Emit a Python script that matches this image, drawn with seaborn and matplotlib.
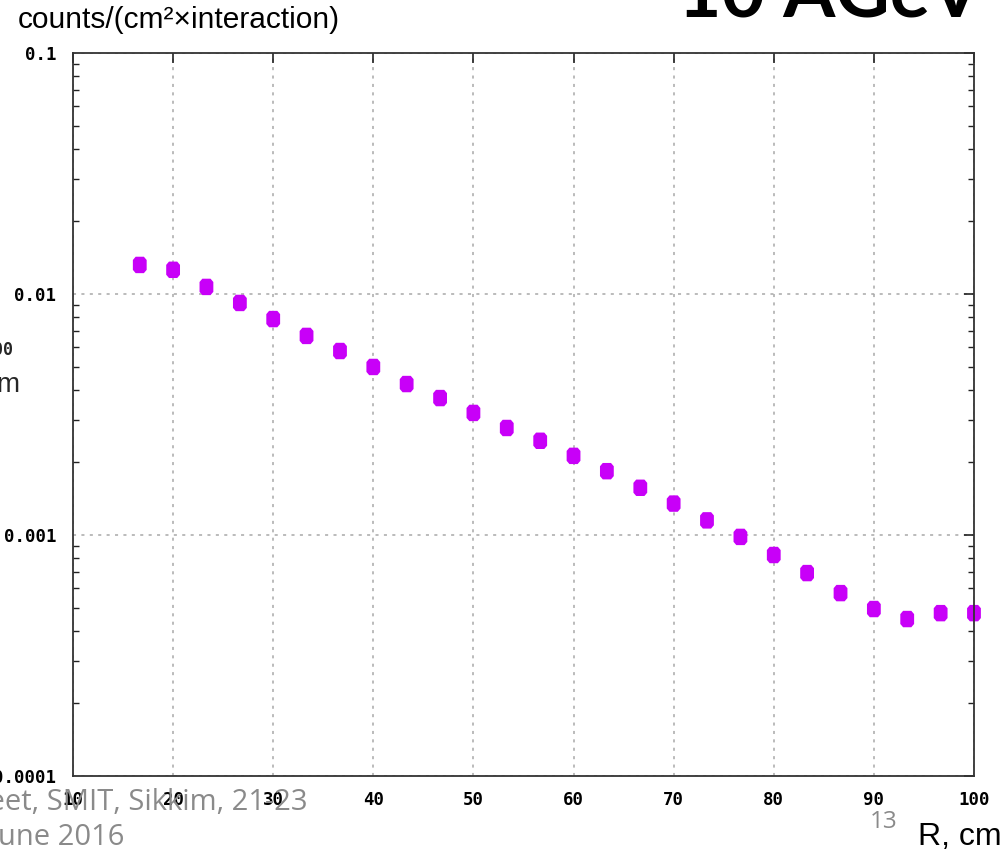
import numpy as np
import pandas as pd
import matplotlib
matplotlib.use("Agg")
import matplotlib.pyplot as plt
import seaborn as sns
from matplotlib.ticker import LogLocator, FixedLocator, NullFormatter, FixedFormatter

# Radial distance of each bin (cm) and hit density per bin
radius_cm = [16.67, 20.0, 23.33, 26.67, 30.0, 33.33, 36.67, 40.0, 43.33,
             46.67, 50.0, 53.33, 56.67, 60.0, 63.33, 66.67, 70.0, 73.33,
             76.67, 80.0, 83.33, 86.67, 90.0, 93.33, 96.67, 100.0]
density = [0.0132, 0.0126, 0.0107, 0.00918, 0.00787, 0.0067, 0.0058, 0.00498,
           0.00423, 0.0037, 0.00321, 0.00278, 0.00246, 0.00213, 0.00184,
           0.00157, 0.00135, 0.00115, 0.000982, 0.000826, 0.000695, 0.000574,
           0.000493, 0.000448, 0.000474, 0.000474]

x_ticks = [10, 20, 30, 40, 50, 60, 70, 80, 90, 100]
x_tick_labels = ["10", "20", "30", "40", "50", "60", "70", "80", "90", "100"]
y_ticks = [0.1, 0.01, 0.001, 0.0001]
y_tick_labels = ["0.1", "0.01", "0.001", "0.0001"]

df = pd.DataFrame({"R": radius_cm, "density": density})

sns.set_theme(style="white")
plt.rcParams["font.family"] = ["Liberation Sans", "DejaVu Sans"]

fig = plt.figure(figsize=(10.04, 8.52), dpi=100)
ax = fig.add_axes([0.0727, 0.0892, 0.8974, 0.8486])

# tall octagon marker
octagon = [(-0.42, -0.3), (-0.25, -0.5), (0.25, -0.5), (0.42, -0.3),
           (0.42, 0.3), (0.25, 0.5), (-0.25, 0.5), (-0.42, 0.3)]

sns.scatterplot(data=df, x="R", y="density", ax=ax, marker=octagon,
                s=140, color="#c800f8", edgecolor="none", linewidth=0,
                clip_on=False, zorder=1, legend=False)

ax.set_yscale("log")
ax.set_xlim(10, 100)
ax.set_ylim(0.0001, 0.1)
ax.set_xlabel("")
ax.set_ylabel("")

ax.xaxis.set_major_locator(FixedLocator(x_ticks))
ax.xaxis.set_major_formatter(FixedFormatter(x_tick_labels))
ax.yaxis.set_major_locator(FixedLocator(y_ticks))
ax.yaxis.set_major_formatter(FixedFormatter(y_tick_labels))
ax.yaxis.set_minor_locator(LogLocator(base=10, subs=np.arange(2, 10)))
ax.yaxis.set_minor_formatter(NullFormatter())
for lab in ax.get_xticklabels() + ax.get_yticklabels():
    lab.set_fontfamily("DejaVu Sans Mono")
    lab.set_fontweight("bold")
    lab.set_fontsize(12.5)
    lab.set_color("black")

ax.tick_params(axis="both", which="major", direction="in", length=7,
               width=1.2, color="#222222", top=True, right=True)
ax.tick_params(axis="y", which="minor", direction="in", length=4,
               width=1.0, color="#222222", left=True, right=True)
ax.tick_params(axis="y", which="major", pad=12)
ax.tick_params(axis="x", which="major", pad=11)

ax.grid(True, which="major", color="#a8a8a8", linestyle=(0, (2, 3.5)),
        linewidth=1.1)
for sp in ax.spines.values():
    sp.set_visible(True)
    sp.set_color("#333333")
    sp.set_linewidth(1.3)

# slide text around the plot
fig.text(0.018, 1 - 28 / 852, "counts/(cm\u00b2\u00d7interaction)",
         fontsize=21.5, color="black", ha="left", va="baseline")
fig.text(0.9785, 1 - 18 / 852, "10 AGeV", fontsize=54, fontweight="bold",
         family="Lato", color="black", ha="right", va="baseline")
fig.text(0.013, 1 - 355 / 852, "x100", fontsize=12, fontweight="bold",
         family="DejaVu Sans Mono", ha="right", va="baseline")
fig.text(-0.004, 1 - 392 / 852, "m", fontsize=20, ha="left",
         va="baseline")
fig.text(0.306, 1 - 810 / 852, "Preet, SMIT, Sikkim, 21-23", fontsize=21,
         family="Open Sans", color="#8a8a8a", ha="right", va="baseline")
fig.text(0.124, 1 - 845 / 852, "June 2016", fontsize=21,
         family="Open Sans", color="#8a8a8a", ha="right", va="baseline")
fig.text(0.866, 1 - 828 / 852, "13", fontsize=17.5, family="Open Sans",
         color="#8a8a8a", ha="left", va="baseline")
fig.text(0.998, 1 - 845 / 852, "R, cm", fontsize=23, color="black",
         ha="right", va="baseline")

fig.savefig("out.png", dpi=100)
